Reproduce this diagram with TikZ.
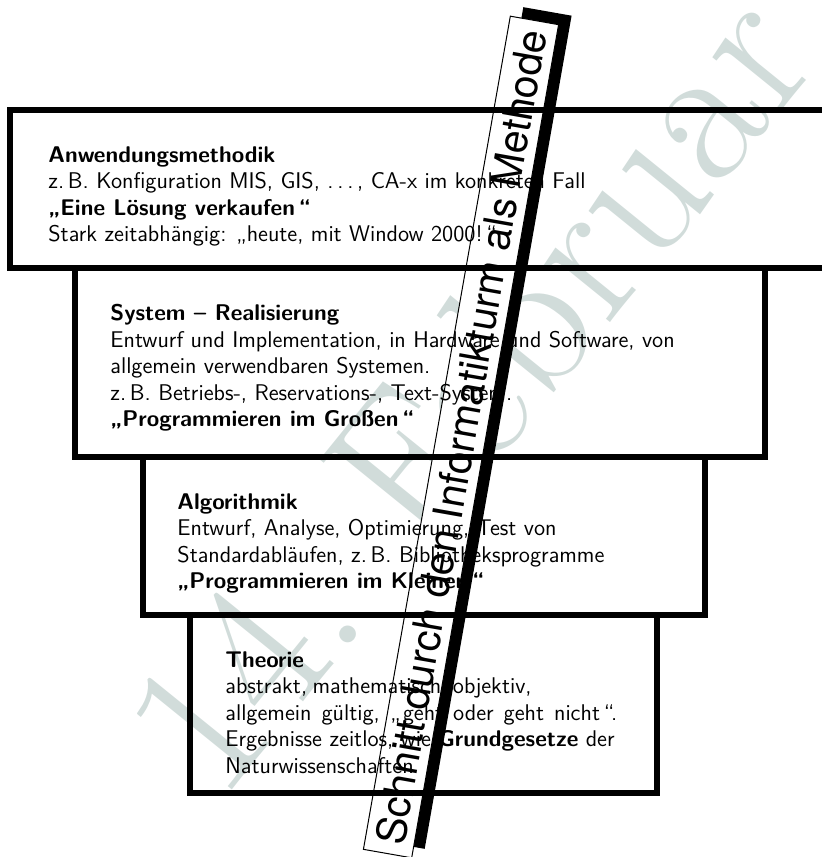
\documentclass[tikz,border=0pt]{standalone}
\usepackage{fontspec}
\newfontfamily\bannerfont{TeX Gyre Heros}
\usepackage{xcolor}
\usepackage{tikz}
\usetikzlibrary{positioning}
\definecolor{stampgray}{HTML}{D1DCDA}
\newcommand\layerfont{\fontsize{11.35}{13.25}\selectfont\sffamily}
\lineskiplimit=-5pt

\tikzset{
  layer/.style={draw, line width=3pt, inner sep=0pt, outer sep=0pt, anchor=north west},
  layertext/.style={inner sep=0pt, align=left, font=\layerfont},
}

\begin{document}
\begin{tikzpicture}[x=0.5pt, y=-0.5pt]
  \useasboundingbox (0,0) rectangle (821,857);

  % Stempel im Hintergrund
  \node[text=stampgray, font=\fontsize{102}{102}\selectfont, rotate=51,
        anchor=base west, inner sep=0pt] (stamp) at (220,805) {14. Februar 2000};

  % Schnitt durch den Turm
  \node[fill=black, rotate=80, minimum width=423pt, minimum height=24.5pt,
        inner sep=0pt] (cutshadow) at (474,428) {};
  \node[draw, line width=0.5pt, fill=white, rotate=80, minimum width=423pt,
        minimum height=24.5pt, inner sep=0pt,
        font=\bannerfont\fontsize{20.5}{21}\selectfont] (cut) at (461,437)
        {Schnitt durch den Informatikturm als Methode};

  % Turm, von oben nach unten
  \node[layer, minimum width=415pt, minimum height=79pt] (anw) at (10,110) {};
  \node[layer, minimum width=345pt, minimum height=94.5pt] (sys) at (75,268) {};
  \node[layer, minimum width=281pt, minimum height=79pt] (algo) at (143,457) {};
  \node[layer, minimum width=233.5pt, minimum height=89pt] (theo) at (190,615) {};

  \node[layertext, below right=18pt and 19pt of anw.north west] (anwtext) {%
    \textbf{Anwendungsmethodik}\\
    z.\,B. Konfiguration MIS, GIS, .\,.\,.\,, CA-x im konkreten Fall\\
    \textbf{„Eine Lösung verkaufen\,“}\\
    Stark zeitabhängig: „heute, mit Window 2000!\,“};
  \node[layertext, below right=18pt and 17.5pt of sys.north west] (systext) {%
    \textbf{System -- Realisierung}\\
    Entwurf und Implementation, in Hardware und Software, von\\
    allgemein verwendbaren Systemen.\\
    z.\,B. Betriebs-, Reservations-, Text-System.\\
    \textbf{„Programmieren im Großen\,“}};
  \node[layertext, below right=18pt and 17pt of algo.north west] (algotext) {%
    \textbf{Algorithmik}\\
    Entwurf, Analyse, Optimierung, Test von\\
    Standardabläufen, z.\,B. Bibliotheksprogramme\\
    \textbf{„Programmieren im Kleinen\,“}};
  \node[layertext, below right=18pt and 17.5pt of theo.north west] (theotext) {%
    \textbf{Theorie}\\
    \makebox[152.5pt][s]{abstrakt, mathematisch, objektiv,}\\
    \makebox[196pt][s]{allgemein gültig, „geht oder geht nicht\,“.}\\
    Ergebnisse zeitlos, wie \textbf{Grundgesetze} der\\
    Naturwissenschaften};
\end{tikzpicture}
\end{document}
